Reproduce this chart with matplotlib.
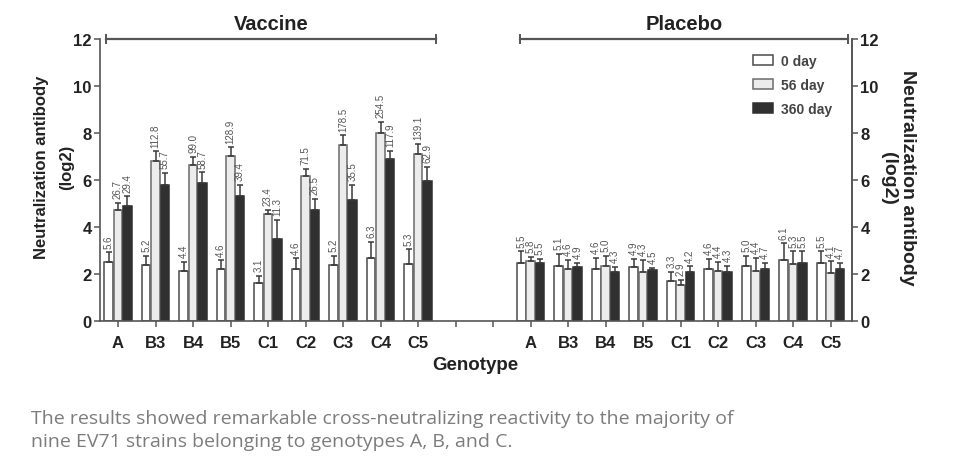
import matplotlib
matplotlib.use("Agg")
import matplotlib.pyplot as plt
import matplotlib.transforms as mtransforms
from matplotlib.patches import Patch
import numpy as np

plt.rcParams['font.family'] = ['Liberation Sans', 'DejaVu Sans']

genotypes = ["A", "B3", "B4", "B5", "C1", "C2", "C3", "C4", "C5"]
series = ["0 day", "56 day", "360 day"]

# Vaccine group: bar heights (log2) and GMT labels
vac_0 = [2.49, 2.38, 2.14, 2.20, 1.63, 2.20, 2.38, 2.66, 2.41]
vac_56 = [4.74, 6.82, 6.63, 7.01, 4.55, 6.16, 7.48, 7.99, 7.12]
vac_360 = [4.88, 5.80, 5.88, 5.30, 3.50, 4.73, 5.15, 6.88, 5.97]
vac_0_err = [0.43, 0.40, 0.38, 0.38, 0.30, 0.47, 0.38, 0.72, 0.64]
vac_56_err = [0.30, 0.40, 0.37, 0.38, 0.17, 0.30, 0.42, 0.47, 0.42]
vac_360_err = [0.43, 0.50, 0.45, 0.50, 0.80, 0.47, 0.64, 0.35, 0.60]
vac_0_lab = ["5.6", "5.2", "4.4", "4.6", "3.1", "4.6", "5.2", "6.3", "5.3"]
vac_56_lab = ["26.7", "112.8", "99.0", "128.9", "23.4", "71.5", "178.5", "254.5", "139.1"]
vac_360_lab = ["29.4", "55.7", "58.7", "39.4", "11.3", "26.5", "35.5", "117.9", "62.9"]

# Placebo group
pla_0 = [2.46, 2.35, 2.20, 2.29, 1.72, 2.20, 2.32, 2.61, 2.46]
pla_56 = [2.54, 2.20, 2.32, 2.10, 1.54, 2.14, 2.14, 2.41, 2.04]
pla_360 = [2.46, 2.29, 2.10, 2.17, 2.07, 2.10, 2.23, 2.46, 2.23]
pla_0_err = [0.50, 0.50, 0.50, 0.35, 0.38, 0.45, 0.45, 0.70, 0.50]
pla_56_err = [0.20, 0.40, 0.45, 0.50, 0.20, 0.38, 0.55, 0.55, 0.50]
pla_360_err = [0.17, 0.17, 0.20, 0.10, 0.25, 0.25, 0.25, 0.50, 0.25]
pla_0_lab = ["5.5", "5.1", "4.6", "4.9", "3.3", "4.6", "5.0", "6.1", "5.5"]
pla_56_lab = ["5.8", "4.6", "5.0", "4.3", "2.9", "4.4", "4.4", "5.3", "4.1"]
pla_360_lab = ["5.5", "4.9", "4.3", "4.5", "4.2", "4.3", "4.7", "5.5", "4.7"]

tick_labels = genotypes + ["", ""] + genotypes

caption_lines = [
    "The results showed remarkable cross-neutralizing reactivity to the majority of",
    "nine EV71 strains belonging to genotypes A, B, and C.",
]

W, H = 969, 464
fig = plt.figure(figsize=(W / 100, H / 100), dpi=100)
ax = fig.add_axes([100/W, 1-322/H, (852-100)/W, (322-40)/H])

def fx(px):
    return px / W

def fy(py):
    return 1 - py / H

n = len(genotypes)
x_vac = np.arange(n)
x_pla = np.arange(n) + n + 2
bw = 0.25
edge = "#4a4a4a"
styles = [dict(facecolor="white", edgecolor=edge),
          dict(facecolor="#ececec", edgecolor="#6a6a6a"),
          dict(facecolor="#303030", edgecolor="#303030")]

groups = [
    (x_vac, [vac_0, vac_56, vac_360], [vac_0_err, vac_56_err, vac_360_err],
     [vac_0_lab, vac_56_lab, vac_360_lab]),
    (x_pla, [pla_0, pla_56, pla_360], [pla_0_err, pla_56_err, pla_360_err],
     [pla_0_lab, pla_56_lab, pla_360_lab]),
]

for xs, vals, errs, labs in groups:
    for k in range(3):
        xpos = xs + (k - 1) * bw
        ax.bar(xpos, vals[k], width=bw * 0.92, linewidth=1.1, zorder=2, **styles[k])
        ax.errorbar(xpos, vals[k], yerr=[np.zeros(n), errs[k]], fmt="none",
                    ecolor="#3a3a3a", elinewidth=1.1, capsize=2.2, capthick=1.1, zorder=3)
        for xi, v, e, t in zip(xpos, vals[k], errs[k], labs[k]):
            ax.text(xi, v + e + 0.2, t, rotation=90, ha="center", va="bottom",
                    fontsize=7, color="#555555", zorder=4)

ax.set_xlim(-0.48, 19.57)
ax.set_ylim(0, 12)
ax.set_yticks(range(0, 13, 2))
ax.set_xticks(np.arange(2 * n + 2))
ax.set_xticklabels(tick_labels, fontsize=12, fontweight="bold", color="#222222")
offset = mtransforms.ScaledTranslation(-5/100, 0, fig.dpi_scale_trans)
for lbl in ax.get_xticklabels():
    lbl.set_transform(lbl.get_transform() + offset)
for lbl in ax.get_yticklabels():
    lbl.set_fontweight("bold")
    lbl.set_fontsize(12)
    lbl.set_color("#222222")

ax.spines["top"].set_visible(False)
for s in ["left", "right", "bottom"]:
    ax.spines[s].set_color("#555555")
    ax.spines[s].set_linewidth(1.2)
ax.tick_params(axis="both", color="#555555", width=1.1, length=4)
ax.tick_params(axis="x", pad=6)
ax.tick_params(axis="y", pad=2)

# right axis
ax2 = ax.twinx()
ax2.set_ylim(0, 12)
ax2.set_yticks(range(0, 13, 2))
for s in ["top", "left", "bottom"]:
    ax2.spines[s].set_visible(False)
ax2.spines["right"].set_color("#555555")
ax2.spines["right"].set_linewidth(1.2)
ax2.tick_params(axis="y", color="#555555", width=1.1, length=4, pad=2)
for lbl in ax2.get_yticklabels():
    lbl.set_fontweight("bold")
    lbl.set_fontsize(12)
    lbl.set_color("#222222")

# axis titles
fig.text(fx(54), fy(167), "Neutralization antibody\n(log2)", rotation=90,
         ha="center", va="center", multialignment="center", fontsize=12,
         fontweight="bold", color="#222222", linespacing=1.8)
fig.text(fx(898), fy(178), "Neutralization antibody\n(log2)", rotation=270,
         ha="center", va="center", multialignment="center", fontsize=14,
         fontweight="bold", color="#222222", linespacing=1.2)
fig.text(fx(475), fy(366), "Genotype", ha="center", va="center", fontsize=13.5,
         fontweight="bold", color="#222222")

# group brackets
for (x0, x1, name) in [(-0.32, 8.48, "Vaccine"), (10.72, 19.47, "Placebo")]:
    ax.plot([x0, x1], [12, 12], color="#555555", lw=1.6, clip_on=False, zorder=5)
    for xe in (x0, x1):
        ax.plot([xe, xe], [11.85, 12.15], color="#555555", lw=1.4, clip_on=False, zorder=5)
    xc = (x0 + x1) / 2
    ax.annotate(name, xy=(xc, 12), xycoords="data", xytext=(0, 11.5),
                textcoords="offset points", ha="center", va="center",
                fontsize=14.5, fontweight="bold", color="#222222", annotation_clip=False)

handles = [Patch(label=series[k], linewidth=1.1, **styles[k]) for k in range(3)]
leg = fig.legend(handles=handles, loc="upper left",
                 bbox_to_anchor=(fx(753), fy(55)), bbox_transform=fig.transFigure,
                 frameon=False, prop={"weight": "bold", "size": 10},
                 handlelength=1.45, handleheight=0.8, labelspacing=0.72,
                 handletextpad=0.55, borderpad=0, borderaxespad=0)
for t in leg.get_texts():
    t.set_color("#444444")

for line, base in zip(caption_lines, [424, 447]):
    fig.text(fx(31), fy(base), line, fontsize=14, color="#7c7c7c",
             family="Open Sans", va="baseline")

fig.savefig("out.png", dpi=100)
